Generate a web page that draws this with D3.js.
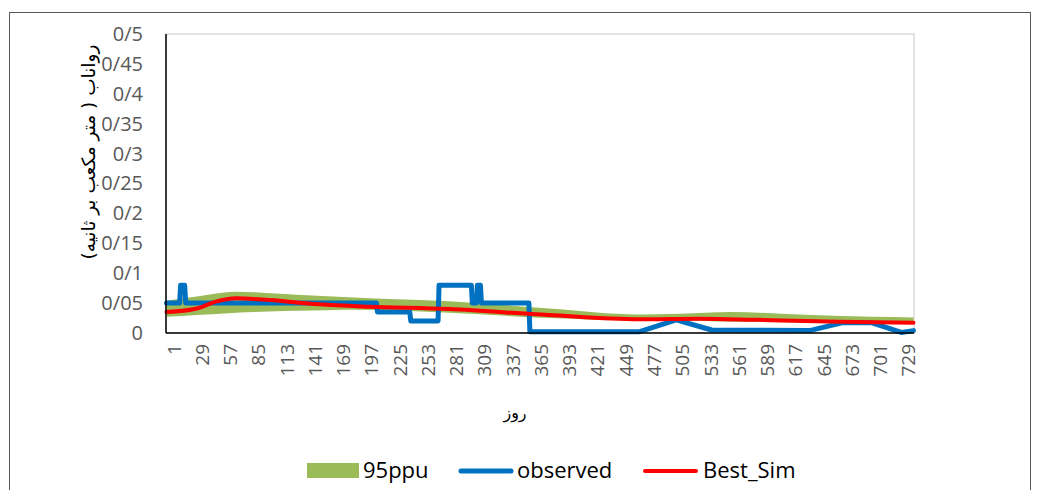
<!DOCTYPE html>
<html><head><meta charset="utf-8">
<script src="https://cdn.jsdelivr.net/npm/d3@7"></script>
<style>body{margin:0;background:#fff}</style>
</head><body>
<svg id="c" width="1040" height="490"></svg>
<script>
// ---- data ----
const yTicks = [0,0.05,0.1,0.15,0.2,0.25,0.3,0.35,0.4,0.45,0.5];
const yTickLabels = ["0","0/05","0/1","0/15","0/2","0/25","0/3","0/35","0/4","0/45","0/5"];
const xTicks = [1,29,57,85,113,141,169,197,225,253,281,309,337,365,393,421,449,477,505,533,561,589,617,645,673,701,729];
const nDays = 741;

const obsDay = [1,14,15,19,20,209,210,242,243,270,271,303,304,308,309,312,313,360,361,469,506,541,638,670,700,729,741];
const obsVal = [0.05,0.05,0.08,0.08,0.05,0.05,0.035,0.035,0.02,0.02,0.08,0.08,0.05,0.05,0.08,0.08,0.05,0.05,0.002,0.002,0.022,0.005,0.004,0.017,0.017,0.001,0.004];

const simDay = [1,31,49,70,103,152,202,281,380,469,529,588,667,741];
const simVal = [0.035,0.041,0.052,0.058,0.055,0.048,0.044,0.040,0.030,0.023,0.024,0.022,0.019,0.017];

const ppuDay   = [1,31,70,130,192,281,380,469,510,560,640,700,741];
const ppuUpper = [0.054,0.061,0.069,0.064,0.059,0.053,0.041,0.031,0.032,0.035,0.030,0.027,0.026];
const ppuLower = [0.027,0.030,0.034,0.037,0.039,0.034,0.025,0.021,0.021,0.019,0.018,0.017,0.017];

const seriesNames = ["95ppu","observed","Best_Sim"];
const colors = {ppu:"#9BBB59", obs:"#0070C0", sim:"#FF0000"};

// ---- layout ----
const svg = d3.select("#c");
const L = 166, R = 914, T = 34, B = 333;
svg.append("rect").attr("x",9.5).attr("y",12.5).attr("width",1021).attr("height",500)
  .attr("fill","none").attr("stroke","#595959").attr("stroke-width",1);

const x = d3.scaleLinear().domain([0.5, nDays+0.5]).range([L,R]);
const y = d3.scaleLinear().domain([0,0.5]).range([B,T]);

// plot area frame
svg.append("rect").attr("x",L).attr("y",T).attr("width",R-L).attr("height",B-T)
  .attr("fill","none").attr("stroke","#d9d9d9").attr("stroke-width",1.5);

// y axis labels
const yAxis = d3.axisLeft(y).tickValues(yTicks).tickFormat((d,i)=>yTickLabels[i]).tickSize(0).tickPadding(23);
const gy = svg.append("g").attr("transform",`translate(${L},0)`).call(yAxis);
gy.select(".domain").remove();
gy.selectAll("text").attr("font-family","Open Sans").attr("font-size",20).attr("fill","#595959");

// x axis labels
const xAxis = d3.axisBottom(x).tickValues(xTicks).tickFormat(d=>String(d)).tickSize(0);
const gx = svg.append("g").attr("transform",`translate(0,${B})`).call(xAxis);
gx.select(".domain").remove();
gx.selectAll("text")
  .attr("font-family","Open Sans").attr("font-size",19).attr("fill","#595959")
  .attr("text-anchor","end").attr("dy",null).attr("y",null)
  .attr("transform","translate(6.5,11) rotate(-90)")
  .attr("dominant-baseline","central");

// band
const area = d3.area().x((d,i)=>x(ppuDay[i])).y0((d,i)=>y(ppuLower[i])).y1((d,i)=>y(ppuUpper[i])).curve(d3.curveMonotoneX);
svg.append("path").datum(ppuDay).attr("d",area).attr("fill",colors.ppu);

// observed
const lineObs = d3.line().x((d,i)=>x(obsDay[i])).y((d,i)=>y(obsVal[i]));
svg.append("path").datum(obsDay).attr("d",lineObs).attr("fill","none")
  .attr("stroke",colors.obs).attr("stroke-width",5).attr("stroke-linejoin","round").attr("stroke-linecap","round");

// sim
const lineSim = d3.line().x((d,i)=>x(simDay[i])).y((d,i)=>y(simVal[i])).curve(d3.curveMonotoneX);
svg.append("path").datum(simDay).attr("d",lineSim).attr("fill","none")
  .attr("stroke",colors.sim).attr("stroke-width",4).attr("stroke-linecap","round");

// axis lines
svg.append("line").attr("x1",L).attr("x2",L).attr("y1",T).attr("y2",B).attr("stroke","#000").attr("stroke-width",1.5);
svg.append("line").attr("x1",L).attr("x2",R).attr("y1",B).attr("y2",B).attr("stroke","#000").attr("stroke-width",1.5);

// titles
svg.append("text").attr("transform","translate(88,152) rotate(-90)")
  .attr("text-anchor","middle").attr("dominant-baseline","central")
  .attr("font-family","DejaVu Sans").attr("font-size",18.5).attr("fill","#000")
  .attr("direction","rtl")
  .text("رواناب ( متر مکعب بر ثانیه)");
svg.append("text").attr("x",515).attr("y",418).attr("text-anchor","middle")
  .attr("font-family","DejaVu Sans").attr("font-size",16).attr("fill","#000")
  .text("روز");

// legend
const lg = svg.append("g");
lg.append("rect").attr("x",307).attr("y",463).attr("width",52).attr("height",15).attr("fill",colors.ppu);
lg.append("text").attr("x",363).attr("y",478).text(seriesNames[0]);
lg.append("line").attr("x1",461).attr("x2",511).attr("y1",471).attr("y2",471)
  .attr("stroke",colors.obs).attr("stroke-width",5).attr("stroke-linecap","round");
lg.append("text").attr("x",517).attr("y",478).text(seriesNames[1]);
lg.append("line").attr("x1",645).attr("x2",696).attr("y1",471).attr("y2",471)
  .attr("stroke",colors.sim).attr("stroke-width",4).attr("stroke-linecap","round");
lg.append("text").attr("x",703).attr("y",478).text(seriesNames[2]);
lg.selectAll("text").attr("font-family","Open Sans").attr("font-size",22).attr("fill","#000");
</script>
</body></html>
